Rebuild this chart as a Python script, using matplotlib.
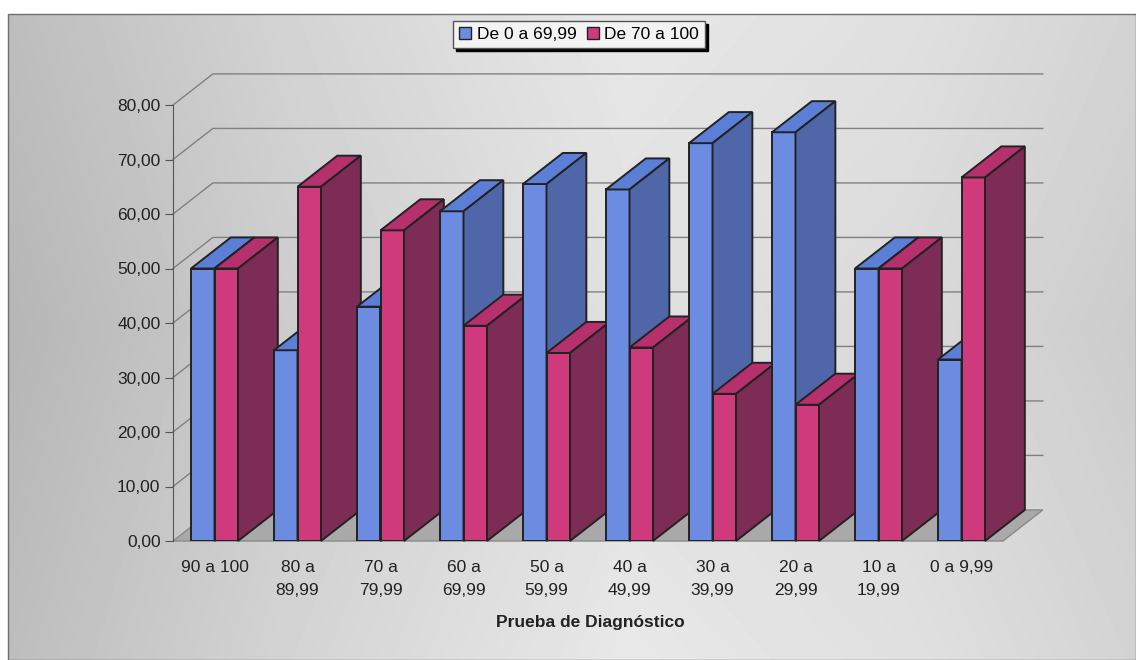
import numpy as np
import matplotlib.pyplot as plt
from matplotlib.patches import Polygon, Rectangle, Patch

plt.rcParams['font.family'] = ['Liberation Sans', 'DejaVu Sans']

categorias = ['90 a 100', '80 a\n89,99', '70 a\n79,99', '60 a\n69,99', '50 a\n59,99',
              '40 a\n49,99', '30 a\n39,99', '20 a\n29,99', '10 a\n19,99', '0 a 9,99']
series = ['De 0 a 69,99', 'De 70 a 100']
bajo = [50.0, 35.0, 43.0, 60.5, 65.5, 64.5, 73.0, 75.0, 50.0, 33.3]
alto = [50.0, 65.0, 57.0, 39.5, 34.5, 35.5, 27.0, 25.0, 50.0, 66.7]
valores_y = [0, 10, 20, 30, 40, 50, 60, 70, 80]

# colores de las caras: frontal, superior, lateral
azul = ('#6b8ce0', '#5b7fd6', '#4f67a8')
rosa = ('#cf3a7c', '#b5306c', '#7c2c55')

W, H = 1136, 660
fig = plt.figure(figsize=(W / 100, H / 100), dpi=100)

# fondo del área del gráfico con degradado gris
fondo = fig.add_axes([0, 0, 1, 1])
xs = np.linspace(0, 1, W)
ys = np.linspace(0, 1, H)
gx = np.interp(xs, [0, 0.25, 0.55, 0.8, 1], [0.71, 0.80, 0.88, 0.85, 0.80])
gy = np.interp(ys, [0, 0.5, 1], [0.03, 0.0, 0.03])
grad = gy[:, None] + gx[None, :]
grad[:14, :] = 1.0
grad[:, :8] = 1.0
fondo.imshow(grad, cmap='gray', vmin=0, vmax=1, extent=[0, W, H, 0], aspect='auto')
fondo.add_patch(Rectangle((8, 14), W - 8, H - 14, fill=False, edgecolor='#707070', lw=1))
fondo.set_xlim(0, W)
fondo.set_ylim(H, 0)
fondo.axis('off')

ax = fig.add_axes([173 / W, (H - 541) / H, 830 / W, 436 / H])
ax.patch.set_alpha(0)
ax.set_xlim(0, 10)
ax.set_ylim(0, 80)

# profundidad del efecto 3D en unidades de datos
dx, dy = 0.48, 5.7

ax.add_patch(Polygon([(0, 0), (10, 0), (10 + dx, dy), (dx, dy)], closed=True,
                     facecolor='#a9a9a9', edgecolor='#8a8a8a', lw=1, clip_on=False, zorder=1))
for v in valores_y[1:]:
    ax.plot([0, dx, 10 + dx], [v, v + dy, v + dy], color='#808080', lw=1,
            clip_on=False, zorder=1.5)

w = 0.283
x = np.arange(len(categorias)) + 0.5
for s, (vals, cols, x0s) in enumerate([(bajo, azul, x - w), (alto, rosa, x)]):
    barras = ax.bar(x0s, vals, w, align='edge', color=cols[0], edgecolor='#222222', lw=1.4)
    for i, (b, h) in enumerate(zip(barras, vals)):
        z = 2 + i + 0.5 * s
        b.set_zorder(z)
        x0 = x0s[i]
        top = [(x0, h), (x0 + w, h), (x0 + w + dx, h + dy), (x0 + dx, h + dy)]
        side = [(x0 + w, 0), (x0 + w + dx, dy), (x0 + w + dx, h + dy), (x0 + w, h)]
        ax.add_patch(Polygon(top, closed=True, facecolor=cols[1], edgecolor='#222222',
                             lw=1.4, clip_on=False, zorder=z))
        ax.add_patch(Polygon(side, closed=True, facecolor=cols[2], edgecolor='#222222',
                             lw=1.4, clip_on=False, zorder=z))

for sp in ['top', 'right', 'bottom']:
    ax.spines[sp].set_visible(False)
ax.spines['left'].set_color('#555555')
ax.set_yticks(valores_y, [f'{v:.2f}'.replace('.', ',') for v in valores_y])
ax.tick_params(axis='y', direction='out', length=6, color='#555555', labelsize=12.5,
               labelcolor='#222222', pad=3)
ax.set_xticks(x, categorias)
ax.tick_params(axis='x', length=0, labelsize=12.5, labelcolor='#222222', pad=14)
for t in ax.get_xticklabels():
    t.set_linespacing(1.6)
    t.set_verticalalignment('top')

fig.text(590 / W, 1 - 622 / H, 'Prueba de Diagnóstico', ha='center', va='center',
         fontsize=12.5, fontweight='bold', color='#222222')

handles = [Patch(facecolor=azul[0], edgecolor='#222222'),
           Patch(facecolor=rosa[0], edgecolor='#222222')]
fig.legend(handles, series, loc='upper center', bbox_to_anchor=(579 / W, 1 - 21 / H),
           ncol=2, frameon=True, fancybox=False, shadow={'color': 'black', 'alpha': 1},
           edgecolor='#555555', facecolor='#f3f3f3', framealpha=1, fontsize=12.5,
           handlelength=0.7, handleheight=0.7, handletextpad=0.3, columnspacing=0.6,
           borderpad=0.35, borderaxespad=0)

fig.savefig('out.png', dpi=100)
